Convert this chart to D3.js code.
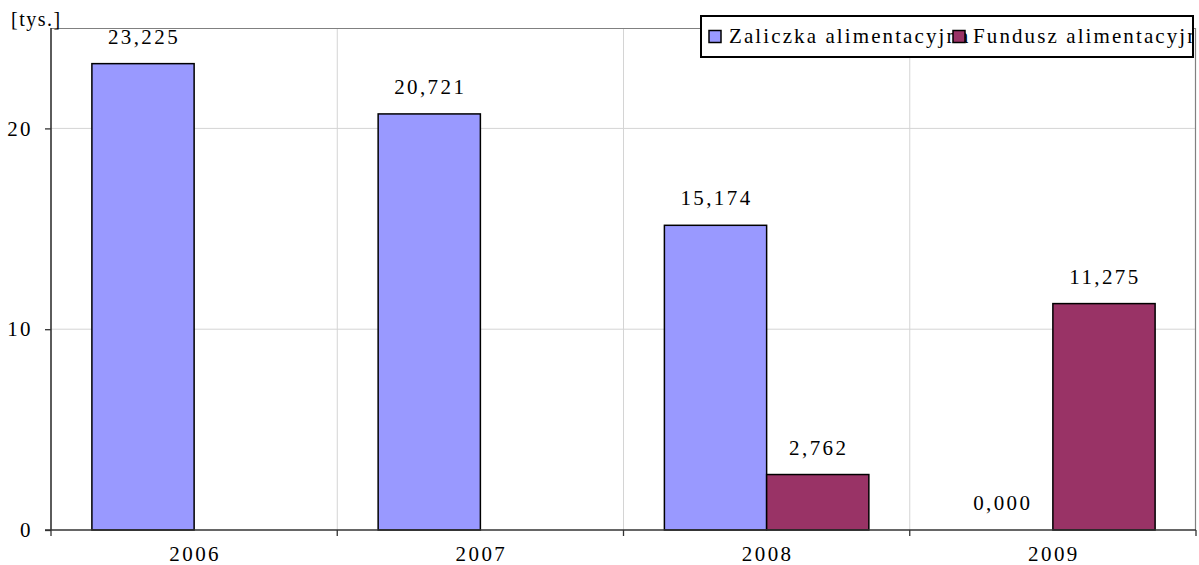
<!DOCTYPE html>
<html>
<head>
<meta charset="utf-8">
<script src="https://cdn.jsdelivr.net/npm/d3@7"></script>
<style>
  html, body { margin: 0; padding: 0; background: #fff; }
  svg { display: block; }
  text { font-family: "Liberation Serif", "Times New Roman", serif; fill: #000; }
</style>
</head>
<body>
<svg id="chart" width="1199" height="565"></svg>
<script>
const categories = ["2006", "2007", "2008", "2009"];
const seriesNames = ["Zaliczka alimentacyjna", "Fundusz alimentacyjny"];
const zaliczka = [23.225, 20.721, 15.174, 0.000];
const fundusz = [null, null, 2.762, 11.275];
const yTicks = [0, 10, 20];
const colors = ["#9999FF", "#993366"];
const unitLabel = "[tys.]";

const svg = d3.select("#chart");
const M = { left: 51, right: 1196, top: 28, bottom: 530 };
const fmt = v => d3.format(".3f")(v).replace(".", ",");

const x = d3.scaleBand().domain(categories).range([M.left, M.right]).paddingInner(0).paddingOuter(0);
const y = d3.scaleLinear().domain([0, 25]).range([M.bottom, M.top]);
const inner = d3.scaleBand().domain([0, 1]).range([0, x.bandwidth()]).paddingInner(0).paddingOuter(0.4);

// gridlines
const grid = svg.append("g");
grid.selectAll("line.h").data(yTicks.filter(d => d > 0)).enter().append("line")
  .attr("x1", M.left).attr("x2", M.right)
  .attr("y1", d => y(d)).attr("y2", d => y(d))
  .attr("stroke", "#d4d4d4").attr("stroke-width", 1);
grid.selectAll("line.v").data(categories.slice(1)).enter().append("line")
  .attr("x1", d => x(d)).attr("x2", d => x(d))
  .attr("y1", M.top).attr("y2", M.bottom)
  .attr("stroke", "#d4d4d4").attr("stroke-width", 1);
// plot border top/right
svg.append("line").attr("x1", M.left).attr("x2", M.right).attr("y1", M.top + 0.5).attr("y2", M.top + 0.5)
  .attr("stroke", "#808080").attr("stroke-width", 1.2);
svg.append("line").attr("x1", M.right - 0.5).attr("x2", M.right - 0.5).attr("y1", M.top).attr("y2", M.bottom)
  .attr("stroke", "#808080").attr("stroke-width", 1.2);

// bars
const series = [zaliczka, fundusz];
series.forEach((vals, si) => {
  const data = categories.map((c, i) => ({ c, v: vals[i] })).filter(d => d.v !== null);
  svg.append("g").selectAll("rect").data(data.filter(d => d.v > 0)).enter().append("rect")
    .attr("x", d => x(d.c) + inner(si))
    .attr("y", d => y(d.v))
    .attr("width", inner.bandwidth())
    .attr("height", d => y(0) - y(d.v))
    .attr("fill", colors[si])
    .attr("stroke", "#000").attr("stroke-width", 1.5);
  svg.append("g").selectAll("text").data(data).enter().append("text")
    .attr("x", d => x(d.c) + inner(si) + inner.bandwidth() / 2 + 1)
    .attr("y", d => y(d.v) - 20)
    .attr("text-anchor", "middle")
    .attr("font-size", 21).attr("letter-spacing", 2.4)
    .text(d => fmt(d.v));
});

// axes
const yAxis = svg.append("g").attr("transform", `translate(${M.left},0)`)
  .call(d3.axisLeft(y).tickValues(yTicks).tickSize(6).tickPadding(12).tickFormat(d3.format("d")));
const xAxis = svg.append("g").attr("transform", `translate(0,${M.bottom})`)
  .call(d3.axisBottom(x).tickSize(0).tickPadding(20));
[yAxis, xAxis].forEach(a => {
  a.select(".domain").attr("stroke", "#333").attr("stroke-width", 1.6);
  a.selectAll(".tick line").attr("stroke", "#333").attr("stroke-width", 1.3);
  a.selectAll("text").attr("font-family", "Liberation Serif, Times New Roman, serif")
    .attr("font-size", 21).attr("letter-spacing", 2.4).attr("fill", "#000");
});
yAxis.select(".domain").attr("d", `M0,${M.top}V${M.bottom}`);
xAxis.select(".domain").attr("d", `M${M.left - 6},0H${M.right}`);
// x ticks at category boundaries
xAxis.selectAll(".btick").data(categories.map(c => x(c)).concat([M.right])).enter().append("line")
  .attr("x1", d => d).attr("x2", d => d).attr("y1", 0).attr("y2", 6)
  .attr("stroke", "#333").attr("stroke-width", 1.3);
xAxis.selectAll(".tick text").attr("dy", "0.71em").attr("y", 16).attr("dx", 1);

// unit label
svg.append("text").attr("x", 11).attr("y", 26).attr("font-size", 20).attr("letter-spacing", 1.5).text(unitLabel);

// legend
const lg = { x: 701, y: 16, w: 492, h: 41 };
svg.append("clipPath").attr("id", "lgclip").append("rect")
  .attr("x", lg.x).attr("y", lg.y).attr("width", lg.w).attr("height", lg.h);
svg.append("rect").attr("x", lg.x).attr("y", lg.y).attr("width", lg.w).attr("height", lg.h)
  .attr("fill", "#fff").attr("stroke", "#000").attr("stroke-width", 2);
const legItems = svg.append("g").attr("clip-path", "url(#lgclip)");
const itemX = [709, 953];
seriesNames.forEach((name, i) => {
  legItems.append("text").attr("x", itemX[i] + 20).attr("y", 43)
    .attr("font-size", 21).attr("letter-spacing", 2.1).text(name);
});
seriesNames.forEach((name, i) => {
  legItems.append("rect").attr("x", itemX[i]).attr("y", 30.5).attr("width", 12).attr("height", 12)
    .attr("fill", colors[i]).attr("stroke", "#000").attr("stroke-width", 1.5);
});
</script>
</body>
</html>
